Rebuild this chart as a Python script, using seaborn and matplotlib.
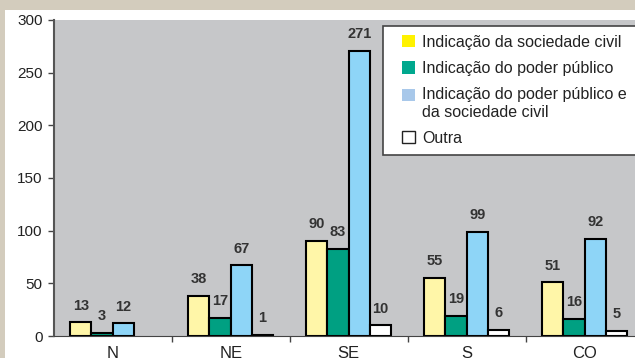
import matplotlib
matplotlib.use("Agg")
import matplotlib.pyplot as plt
from matplotlib.patches import Patch, Rectangle
import numpy as np
import pandas as pd
import seaborn as sns

# dados
regioes = ["N", "NE", "SE", "S", "CO"]
tipos = ["Indicação da sociedade civil", "Indicação do poder público",
         "Indicação do poder público e\nda sociedade civil", "Outra"]
soc_civil = [13, 38, 90, 55, 51]
poder_pub = [3, 17, 83, 19, 16]
ambos = [12, 67, 271, 99, 92]
outra = [0, 1, 10, 6, 5]

cores_barras = ["#FFF6A8", "#00A082", "#8ED5F7", "#FFFFFF"]
cores_legenda = ["#FFF200", "#00A88E", "#A8C8EA", "#FFFFFF"]

df = pd.DataFrame({
    "regiao": regioes * 4,
    "tipo": [t for t in tipos for _ in regioes],
    "valor": soc_civil + poder_pub + ambos + outra,
})

plt.rcParams["font.family"] = ["Liberation Sans", "DejaVu Sans"]

W, H = 635, 358
fig = plt.figure(figsize=(W / 100, H / 100), dpi=100)
fig.patch.set_facecolor("white")
# moldura bege (topo e lado esquerdo)
fig.patches.append(Rectangle((0, 1 - 10 / H), 1, 10 / H, transform=fig.transFigure,
                             facecolor="#D3CCBD", edgecolor="none", zorder=0))
fig.patches.append(Rectangle((0, 0), 5 / W, 1, transform=fig.transFigure,
                             facecolor="#D3CCBD", edgecolor="none", zorder=0))

ax = fig.add_axes([53.7 / W, 22 / H, 590 / W, 316 / H])
ax.set_facecolor("#C6C7C9")

sns.barplot(data=df, x="regiao", y="valor", hue="tipo", hue_order=tipos,
            palette=cores_barras, saturation=1, edgecolor="black", linewidth=1.5,
            width=0.72, gap=0, legend=False, ax=ax)

for c in ax.containers:
    for b in c:
        if b.get_height() == 0:
            b.set_visible(False)
    labs = [f"{v:.0f}" if v > 0 else "" for v in c.datavalues]
    ax.bar_label(c, labels=labs, padding=7, fontsize=10.5,
                 fontweight="bold", color="#333333")

ax.set_xlim(-0.5, 4.5)
ax.set_ylim(0, 300)
ax.set_yticks(range(0, 301, 50))
ax.set_xticks(range(5))
ax.set_xticklabels(regioes)
ax.set_xticks([0.5, 1.5, 2.5, 3.5], minor=True)
ax.set_xlabel("")
ax.set_ylabel("")
ax.tick_params(axis="x", which="major", length=0, pad=7, labelsize=12, labelcolor="#222222")
ax.tick_params(axis="x", which="minor", length=4, width=1, color="#444444", direction="out")
ax.tick_params(axis="y", length=4, width=1, color="#444444", pad=4, labelsize=11,
               labelcolor="#222222")
for s in ["top", "right"]:
    ax.spines[s].set_visible(False)
ax.spines["left"].set_color("#555555")
ax.spines["left"].set_linewidth(1.5)
ax.spines["bottom"].set_color("#444444")
ax.spines["bottom"].set_linewidth(0.8)

handles = [Patch(facecolor=c, edgecolor="none") for c in cores_legenda[:3]]
handles.append(Patch(facecolor="white", edgecolor="#222222", linewidth=1))
leg = ax.legend(handles, tipos, loc="upper left",
                bbox_to_anchor=(383 / W, 1 - 26 / H), bbox_transform=fig.transFigure,
                frameon=True, fancybox=False, framealpha=1, edgecolor="#444444",
                fontsize=11.5, borderpad=0.55, borderaxespad=0,
                handlelength=1.52, handleheight=0.8, handletextpad=0.4,
                labelspacing=0.7)
leg.get_frame().set_linewidth(1.2)
for t in leg.get_texts():
    t.set_color("#222222")
for i, p in enumerate(leg.legend_handles):
    p.set_x(p.get_x() + 7.2)
    p.set_width(9.4)
    if i == 2:
        p.set_y(p.get_y() + 6.5)

fig.savefig("out.png", dpi=100)
